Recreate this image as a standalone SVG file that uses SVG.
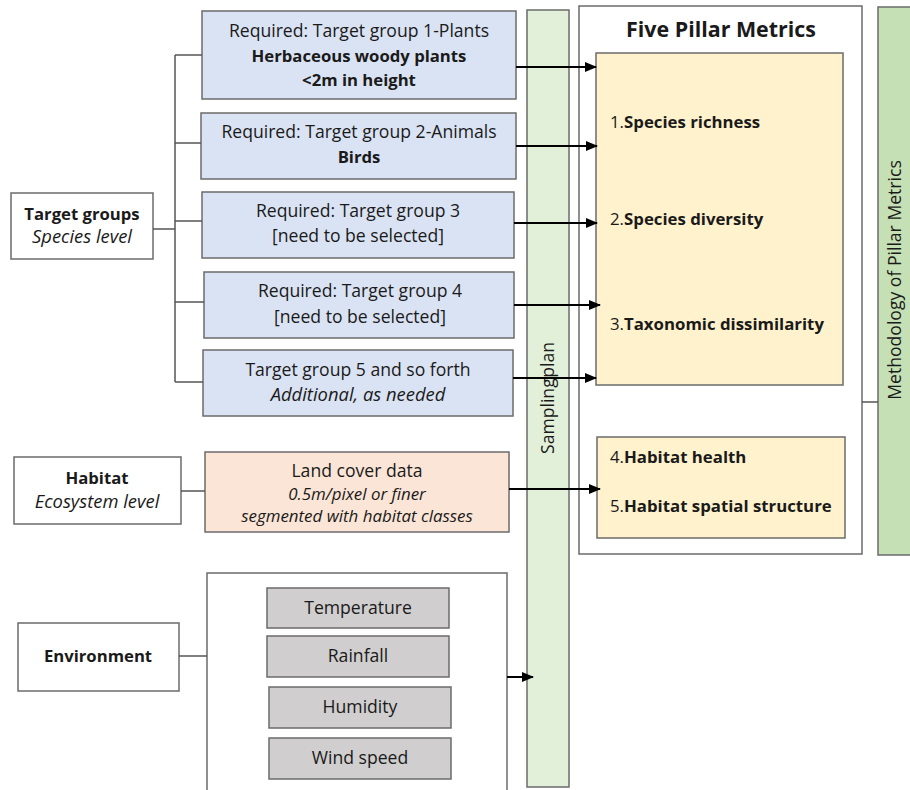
<svg xmlns="http://www.w3.org/2000/svg" width="910" height="790" viewBox="0 0 910 790">
  <style>
    text { font-family: "Open Sans", "Noto Sans", "Liberation Sans", sans-serif; fill: #1a1a1a; }
    .t { font-size: 17.6px; text-anchor: middle; }
    .t.b { font-size: 16.7px; font-weight: bold; }
    .t.i { font-size: 18.4px; font-style: italic; }
    .s { font-size: 16.9px; font-style: italic; text-anchor: middle; }
    .b { font-weight: bold; }
    .box { stroke: #6b6b6b; stroke-width: 1.5; }
    .white { fill: #ffffff; }
    .blue { fill: #dae3f3; }
    .peach { fill: #fbe5d6; }
    .gray { fill: #d0cece; }
    .yellow { fill: #fff2cc; }
    .lgreen { fill: #e2f0d9; }
    .green { fill: #c5e0b4; }
    .link { stroke: #555555; stroke-width: 1.5; fill: none; }
    .arrow { stroke: #000000; stroke-width: 2; fill: none; marker-end: url(#head); }
    .item { font-size: 16.8px; }
  </style>
  <defs>
    <marker id="head" markerWidth="12" markerHeight="10" refX="11" refY="5" orient="auto" markerUnits="userSpaceOnUse">
      <path d="M0,0 L12,5 L0,10 Z" fill="#000000"/>
    </marker>
  </defs>

  <!-- vertical bands -->
  <g id="sampling-plan">
    <rect class="box lgreen" x="527" y="10" width="42" height="777"/>
    <text class="t" word-spacing="-4" transform="translate(554,398) rotate(-90)">Sampling plan</text>
  </g>
  <g id="methodology">
    <rect class="box green" x="878" y="7" width="40" height="548"/>
    <text class="t" transform="translate(901,280) rotate(-90)">Methodology of Pillar Metrics</text>
  </g>

  <!-- five pillar metrics panel -->
  <g id="five-pillar-metrics">
    <rect class="box white" x="579" y="6" width="283" height="548"/>
    <text x="721" y="37" font-size="21.4" font-weight="bold" text-anchor="middle">Five Pillar Metrics</text>
  </g>
  <g id="species-metrics">
    <rect class="box yellow" x="596" y="53" width="247" height="332"/>
    <text class="item" x="610" y="128">1.<tspan class="b">Species richness</tspan></text>
    <text class="item" x="610" y="225">2.<tspan class="b">Species diversity</tspan></text>
    <text class="item" x="610" y="330">3.<tspan class="b">Taxonomic dissimilarity</tspan></text>
  </g>
  <g id="habitat-metrics">
    <rect class="box yellow" x="597" y="437" width="248" height="101"/>
    <text class="item" x="610" y="463">4.<tspan class="b">Habitat health</tspan></text>
    <text class="item" x="610" y="512">5.<tspan class="b">Habitat spatial structure</tspan></text>
  </g>

  <!-- left-hand categories -->
  <g id="target-groups">
    <rect class="box white" x="11" y="193" width="142" height="66"/>
    <text class="t b" x="82" y="220">Target groups</text>
    <text class="t i" x="82" y="243">Species level</text>
  </g>
  <g id="habitat">
    <rect class="box white" x="14" y="457" width="167" height="67"/>
    <text class="t b" x="97" y="484">Habitat</text>
    <text class="t i" x="97" y="508">Ecosystem level</text>
  </g>
  <g id="environment">
    <rect class="box white" x="18" y="623" width="161" height="68"/>
    <text class="t b" x="98" y="662">Environment</text>
  </g>

  <!-- target group boxes -->
  <g id="group-1">
    <rect class="box blue" x="202" y="11" width="314" height="88"/>
    <text class="t" x="359" y="37">Required: Target group 1-Plants</text>
    <text class="t b" x="359" y="62">Herbaceous woody plants</text>
    <text class="t b" x="359" y="86">&lt;2m in height</text>
  </g>
  <g id="group-2">
    <rect class="box blue" x="201" y="113" width="315" height="66"/>
    <text class="t" x="359" y="138">Required: Target group 2-Animals</text>
    <text class="t b" x="359" y="163">Birds</text>
  </g>
  <g id="group-3">
    <rect class="box blue" x="202" y="192" width="312" height="66"/>
    <text class="t" x="358" y="217">Required: Target group 3</text>
    <text class="t" x="358" y="242">[need to be selected]</text>
  </g>
  <g id="group-4">
    <rect class="box blue" x="204" y="272" width="310" height="66"/>
    <text class="t" x="360" y="297">Required: Target group 4</text>
    <text class="t" x="360" y="323">[need to be selected]</text>
  </g>
  <g id="group-5">
    <rect class="box blue" x="203" y="350" width="310" height="66"/>
    <text class="t" x="358" y="376">Target group 5 and so forth</text>
    <text class="t i" x="358" y="401">Additional, as needed</text>
  </g>

  <!-- habitat data -->
  <g id="land-cover">
    <rect class="box peach" x="205" y="452" width="304" height="80"/>
    <text class="t" x="357" y="477">Land cover data</text>
    <text class="s" x="357" y="500">0.5m/pixel or finer</text>
    <text class="s" x="357" y="522">segmented with habitat classes</text>
  </g>

  <!-- environmental variables -->
  <g id="environment-variables">
    <rect class="box white" x="207" y="573" width="300" height="230"/>
  </g>
  <g id="temperature">
    <rect class="box gray" x="267" y="588" width="182" height="40"/>
    <text class="t" x="358" y="614">Temperature</text>
  </g>
  <g id="rainfall">
    <rect class="box gray" x="267" y="636" width="182" height="41"/>
    <text class="t" x="358" y="662">Rainfall</text>
  </g>
  <g id="humidity">
    <rect class="box gray" x="269" y="687" width="182" height="41"/>
    <text class="t" x="360" y="713">Humidity</text>
  </g>
  <g id="wind-speed">
    <rect class="box gray" x="269" y="738" width="182" height="41"/>
    <text class="t" x="360" y="764">Wind speed</text>
  </g>

  <!-- connectors -->
  <g id="connectors">
    <path class="link" d="M153,229 H175 M175,55 V382 M175,55 H202 M175,143 H201 M175,221 H202 M175,302 H204 M175,382 H203"/>
    <path class="link" d="M181,491 H205"/>
    <path class="link" d="M179,656 H207"/>
    <path class="link" d="M862,402 H878"/>
    <path class="arrow" d="M516,67 H596"/>
    <path class="arrow" d="M516,146 H597"/>
    <path class="arrow" d="M514,223 H597"/>
    <path class="arrow" d="M514,305 H600"/>
    <path class="arrow" d="M513,378 H596"/>
    <path class="arrow" d="M509,489 H600"/>
    <path class="arrow" d="M507,677 H533"/>
  </g>
</svg>
